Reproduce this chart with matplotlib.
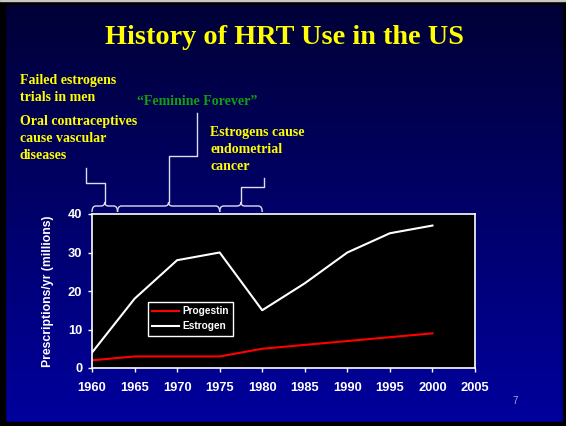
import numpy as np
import matplotlib
matplotlib.use("Agg")
import matplotlib.pyplot as plt
import matplotlib.transforms as mtransforms
from matplotlib.patches import Rectangle
from matplotlib.path import Path
from matplotlib.patches import PathPatch

# data
years = [1960, 1965, 1970, 1975, 1980, 1985, 1990, 1995, 2000]
progestin = [2, 3, 3, 3, 5, 6, 7, 8, 9]
estrogen = [4, 18, 28, 30, 15, 22, 30, 35, 37]
x_ticks = [1960, 1965, 1970, 1975, 1980, 1985, 1990, 1995, 2000, 2005]
y_ticks = [0, 10, 20, 30, 40]

# eras marked by braces above the plot
eras = [(1960, 1963), (1963, 1975), (1975, 1980)]

W, H = 566, 426
fig = plt.figure(figsize=(W / 100, H / 100), dpi=100)

# slide background with vertical gradient
bg = fig.add_axes([0, 0, 1, 1])
bg.set_axis_off()
grad = np.linspace(0, 1, 256).reshape(-1, 1)
top = np.array([0x00, 0x00, 0x36]) / 255
bot = np.array([0x00, 0x00, 0x9e]) / 255
img = top + (bot - top) * grad[..., None]
bg.imshow(img, aspect="auto", extent=[0, 1, 0, 1], origin="upper")
bg.set_xlim(0, 1)
bg.set_ylim(0, 1)
# slide frame
bg.add_patch(Rectangle((0, 0), 5 / W, 1, color="black"))
bg.add_patch(Rectangle((1 - 3 / W, 0), 3 / W, 1, color="black"))
bg.add_patch(Rectangle((0, 0), 1, 4 / H, color="black"))
bg.add_patch(Rectangle((0, 1 - 4 / H), 1, 4 / H, color="black"))
bg.add_patch(Rectangle((0, 1 - 1 / H), 1, 1 / H, color="#c8c8c8"))

yellow = "#ffff00"
serif = ["Liberation Serif", "DejaVu Serif"]
sans = ["Liberation Sans", "DejaVu Sans"]

fig.text(0.503, 1 - 44 / H, "History of HRT Use in the US", ha="center",
         va="baseline", color=yellow, fontsize=20.3, fontweight="bold", family=serif)

ax = fig.add_axes([92 / W, 1 - 368 / H, (475 - 92) / W, (368 - 214) / H])
ax.set_facecolor("black")
ax.plot(years, progestin, color="#ff0000", lw=1.5, label="Progestin")
ax.plot(years, estrogen, color="white", lw=1.5, label="Estrogen")
ax.set_xlim(1960, 2005)
ax.set_ylim(0, 40)
ax.set_xticks(x_ticks)
ax.set_yticks(y_ticks)
for s in ax.spines.values():
    s.set_color("white")
    s.set_linewidth(1.2)
ax.tick_params(colors="white", length=3, width=1, direction="out", pad=4)
for lab in ax.get_xticklabels() + ax.get_yticklabels():
    lab.set_fontweight("bold")
    lab.set_fontsize(9.3)
    lab.set_family(sans)
    lab.set_color("white")
ax.tick_params(axis="x", pad=7)
ax.set_ylabel("Prescriptions/yr (millions)", color="white", fontsize=8.8,
              fontweight="bold", family=sans, labelpad=10)

leg = ax.legend(loc="upper left", bbox_to_anchor=(0.146, 0.429), borderaxespad=0,
                fancybox=False, facecolor="black", edgecolor="white", framealpha=1,
                prop={"family": sans, "weight": "bold", "size": 7.3},
                handlelength=2.6, borderpad=0.45, labelspacing=0.45, handletextpad=0.3)
for t in leg.get_texts():
    t.set_color("white")
leg.get_frame().set_linewidth(1)

# braces above the axes (x in data, y in figure fraction)
tr = mtransforms.blended_transform_factory(ax.transData, fig.transFigure)
fy = lambda py: 1 - py / H
line_c = "#dcdcf0"


def brace(x0, x1):
    xm = (x0 + x1) / 2
    r = 0.45
    verts = [(x0, fy(212)), (x0, fy(206)), (x0 + r, fy(206)),
             (xm - r, fy(206)), (xm, fy(206)), (xm, fy(202)),
             (xm, fy(202)), (xm, fy(206)), (xm + r, fy(206)),
             (x1 - r, fy(206)), (x1, fy(206)), (x1, fy(212))]
    codes = [Path.MOVETO, Path.CURVE3, Path.CURVE3,
             Path.LINETO, Path.CURVE3, Path.CURVE3,
             Path.MOVETO, Path.CURVE3, Path.CURVE3,
             Path.LINETO, Path.CURVE3, Path.CURVE3]
    fig.add_artist(PathPatch(Path(verts, codes), transform=tr, fill=False,
                             edgecolor=line_c, lw=1))
    return xm


centers = [brace(a, b) for a, b in eras]

# elbow connectors from brace tips up to the notes
elbows = [(183, 1959.3, 168), (156, 1972.3, 113), (187, 1980.2, 178)]
for xm, (yb, xe, ye) in zip(centers, elbows):
    fig.add_artist(plt.Line2D([xm, xm, xe, xe], [fy(202), fy(yb), fy(yb), fy(ye)],
                              transform=tr, color=line_c, lw=1))

note_kw = dict(color=yellow, fontsize=10, fontweight="bold", family=serif,
               va="top", ha="left", linespacing=1.4)
fig.text(20 / W, fy(74), "Failed estrogens\ntrials in men", **note_kw)
fig.text(20 / W, fy(115), "Oral contraceptives\ncause vascular\ndiseases", **note_kw)
fig.text(210 / W, fy(126), "Estrogens cause\nendometrial\ncancer", **note_kw)
fig.text(137 / W, fy(95), "\u201cFeminine Forever\u201d", color="#10a010", fontsize=10,
         fontweight="bold", family=serif, va="top", ha="left")

fig.text(515 / W, fy(401), "7", color="#a8a8e0", fontsize=7, family=sans,
         ha="center", va="center")

fig.savefig("out.png", dpi=100)
